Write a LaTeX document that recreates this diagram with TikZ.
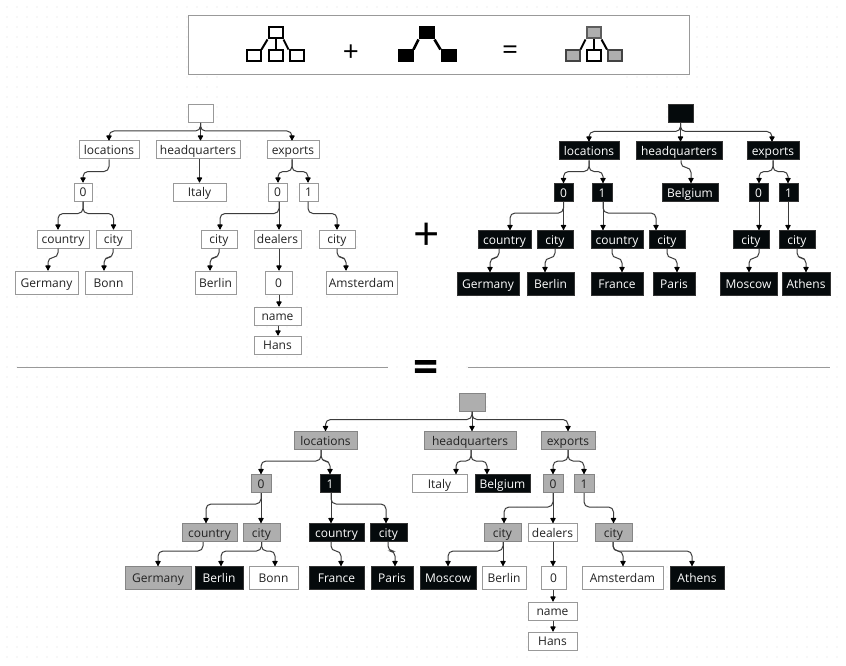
\documentclass[tikz,border=0pt]{standalone}
\usepackage{fontspec}
\setmainfont{Open Sans}
\usetikzlibrary{arrows.meta}
\definecolor{boxgray}{HTML}{999999}
\definecolor{midgray}{HTML}{AEAEAE}
\definecolor{midedge}{HTML}{858585}
\definecolor{nearblack}{HTML}{050A0C}
\definecolor{blackedge}{HTML}{333333}
\definecolor{linkgray}{HTML}{3C3C3C}
\definecolor{dotgray}{HTML}{E0E0E0}
\definecolor{textgray}{HTML}{222222}
\tikzset{
	treenode/.style={rectangle, inner sep=0pt, line width=1pt, minimum height=18pt, text height=10.5pt, text depth=1pt, font=\fontsize{12}{14}\selectfont, align=center},
	whitenode/.style={treenode, draw=boxgray, fill=white, text=textgray},
	blacknode/.style={treenode, draw=blackedge, fill=nearblack, text=white},
	graynode/.style={treenode, draw=midedge, fill=midgray, text=textgray},
	leaf/.style={minimum height=23pt},
	link/.style={draw=linkgray, line width=1pt, rounded corners=5pt, -{Latex[length=6pt,width=6.5pt,round,black]}},
	iconbox/.style={rectangle, draw=black, line width=2pt, minimum width=14pt, minimum height=11pt, inner sep=0pt},
	iconlink/.style={draw=black, line width=2pt},
	sign/.style={inner sep=0pt, text=black}
}
\begin{document}
\begin{tikzpicture}[x=1pt,y=-1pt]
	\useasboundingbox (0,0) rectangle (846,666);
	\fill[white] (0,0) rectangle (846,666);

	% Dotted canvas
	\foreach \dotx in {7,17,...,837}
		\foreach \doty in {7,17,...,657}
			\fill[dotgray] (\dotx,\doty) circle (0.6pt);
	\fill[white] (219,70) rectangle (619,92);

	% Legend box
	\node[rectangle, draw=boxgray, fill=white, line width=1pt, minimum width=501pt, minimum height=59pt, inner sep=0pt] (legend) at (438.5,45.5) {};

	% Legend white tree
	\node[iconbox, fill=white] (wtop) at (275.5,33) {};
	\node[iconbox, fill=white] (wleft) at (253.5,56) {};
	\node[iconbox, fill=white] (wmid) at (275.5,56) {};
	\node[iconbox, fill=white] (wright) at (296.5,56) {};
	\draw[iconlink] (wtop.south west) -- (wleft.north east);
	\draw[iconlink] (wtop.south) -- (wmid.north);
	\draw[iconlink] (wtop.south east) -- (wright.north west);

	% Legend black tree
	\node[iconbox, fill=black] (btop) at (426.5,33) {};
	\node[iconbox, fill=black] (bleft) at (405.5,56) {};
	\node[iconbox, fill=black] (bright) at (448.5,56) {};
	\draw[iconlink, line width=2.6pt] (btop.south west) -- (bleft.north east);
	\draw[iconlink, line width=2.6pt] (btop.south east) -- (bright.north west);

	% Legend merged tree
	\node[iconbox, fill=midgray, draw=midedge!70!black] (gtop) at (593.5,33) {};
	\node[iconbox, fill=midgray, draw=midedge!50!black] (gleft) at (572.5,56) {};
	\node[iconbox, fill=white] (gmid) at (593.5,56) {};
	\node[iconbox, fill=midgray, draw=midedge!50!black] (gright) at (615,56) {};
	\draw[iconlink] (gtop.south west) -- (gleft.north east);
	\draw[iconlink] (gtop.south) -- (gmid.north);
	\draw[iconlink] (gtop.south east) -- (gright.north west);

	% Signs
	\node[sign, font=\fontsize{28}{30}\selectfont] (lplus) at (351,53) {+};
	\node[sign, font=\fontsize{28}{30}\selectfont] (lequal) at (510,53) {=};
	\node[sign, font=\fontsize{46}{48}\selectfont] (bigplus) at (426.5,237) {+};
	\node[sign, font=\fontsize{44}{46}\bfseries\selectfont] (bigequal) at (426.5,371) {=};

	% Separator
	\coordinate (sepa) at (17,367);
	\coordinate (sepb) at (388,367);
	\coordinate (sepc) at (468,367);
	\coordinate (sepd) at (830,367);
	\draw[boxgray, line width=1pt] (sepa) -- (sepb);
	\draw[boxgray, line width=1pt] (sepc) -- (sepd);

	% Left tree nodes
	\node[whitenode, minimum width=25pt] (lroot) at (200.5,113.5) {};
	\node[whitenode, minimum width=60pt] (lloc) at (109,150) {locations};
	\node[whitenode, minimum width=84pt] (lhq) at (198,150) {headquarters};
	\node[whitenode, minimum width=52pt] (lexp) at (293,150) {exports};
	\node[whitenode, minimum width=18pt] (lloczero) at (83,192) {0};
	\node[whitenode, minimum width=53pt] (lital) at (199.5,192) {Italy};
	\node[whitenode, minimum width=19pt] (lexpzero) at (277.5,192) {0};
	\node[whitenode, minimum width=19pt] (lexpone) at (308.5,192) {1};
	\node[whitenode, minimum width=52pt] (lcoun) at (63,239) {country};
	\node[whitenode, minimum width=35pt] (lcitya) at (113.5,239) {city};
	\node[whitenode, minimum width=36pt] (lcityb) at (219,239) {city};
	\node[whitenode, minimum width=47pt] (ldeal) at (277.5,239) {dealers};
	\node[whitenode, minimum width=36pt] (lcityc) at (337,239) {city};
	\node[whitenode, leaf, minimum width=63pt] (lgerm) at (46.5,282.5) {Germany};
	\node[whitenode, leaf, minimum width=47pt] (lbonn) at (108.5,282.5) {Bonn};
	\node[whitenode, leaf, minimum width=41pt] (lberl) at (215.5,282.5) {Berlin};
	\node[whitenode, leaf, minimum width=27pt] (ldealzero) at (278.5,282.5) {0};
	\node[whitenode, leaf, minimum width=71pt] (lamst) at (361.5,282.5) {Amsterdam};
	\node[whitenode, minimum width=47pt] (lname) at (277.5,316) {name};
	\node[whitenode, minimum width=47pt] (lhans) at (277.5,345) {Hans};

	% Left tree arrows
	\draw[link] (lroot.south) -- ++(0,8) -| (lloc.north);
	\draw[link] (lroot.south) -- (200.5,0 |- lhq.north);
	\draw[link] (lroot.south) -- ++(0,8) -| (292,0 |- lexp.north);
	\draw[link] (lloc.south) -- ++(0,12) -| (lloczero.north);
	\draw[link] (lhq.south -| lital.north) -- (lital.north);
	\draw[link] (292,0 |- lexp.south) -- ++(0,12) -| (278,0 |- lexpzero.north);
	\draw[link] (292,0 |- lexp.south) -- ++(0,12) -| (308,0 |- lexpone.north);
	\draw[link] (lloczero.south) -- ++(0,12) -| (58,0 |- lcoun.north);
	\draw[link] (lloczero.south) -- ++(0,12) -| (lcitya.north);
	\draw[link] (279,0 |- lexpzero.south) -- ++(0,12) -| (220,0 |- lcityb.north);
	\draw[link] (279,0 |- lexpzero.south) -- (279,0 |- ldeal.north);
	\draw[link] (308,0 |- lexpone.south) -- ++(0,12) -| (337,0 |- lcityc.north);
	\draw[link] (58,0 |- lcoun.south) -- ++(0,9) -| (48,0 |- lgerm.north);
	\draw[link] (113,0 |- lcitya.south) -- ++(0,9) -| (104,0 |- lbonn.north);
	\draw[link] (219,0 |- lcityb.south) -- ++(0,9) -| (210,0 |- lberl.north);
	\draw[link] (279,0 |- ldeal.south) -- (279,0 |- ldealzero.north);
	\draw[link] (337,0 |- lcityc.south) -- ++(0,9) -| (346,0 |- lamst.north);
	\draw[link] (279,0 |- ldealzero.south) -- (279,0 |- lname.north);
	\draw[link] (278,0 |- lname.south) -- (278,0 |- lhans.north);

	% Right tree nodes
	\node[blacknode, minimum width=25pt] (rroot) at (680.5,114) {};
	\node[blacknode, minimum width=60pt] (rloc) at (589,151) {locations};
	\node[blacknode, minimum width=86pt] (rhq) at (679,151) {headquarters};
	\node[blacknode, minimum width=52pt] (rexp) at (773,151) {exports};
	\node[blacknode, minimum width=19pt] (rloczero) at (563.5,192.5) {0};
	\node[blacknode, minimum width=20pt] (rlocone) at (602,192.5) {1};
	\node[blacknode, minimum width=56pt] (rbelg) at (690,192.5) {Belgium};
	\node[blacknode, minimum width=19pt] (rexpzero) at (758.5,192.5) {0};
	\node[blacknode, minimum width=19pt] (rexpone) at (788.5,192.5) {1};
	\node[blacknode, minimum width=53pt] (rcouna) at (504.5,239.5) {country};
	\node[blacknode, minimum width=36pt] (rcitya) at (555,239.5) {city};
	\node[blacknode, minimum width=52pt] (rcounb) at (617,239.5) {country};
	\node[blacknode, minimum width=36pt] (rcityb) at (667,239.5) {city};
	\node[blacknode, minimum width=36pt] (rcityc) at (751,239.5) {city};
	\node[blacknode, minimum width=36pt] (rcityd) at (797,239.5) {city};
	\node[blacknode, leaf, minimum width=62pt] (rgerm) at (488,284) {Germany};
	\node[blacknode, leaf, minimum width=47pt] (rberl) at (550.5,284) {Berlin};
	\node[blacknode, leaf, minimum width=52pt] (rfran) at (617,284) {France};
	\node[blacknode, leaf, minimum width=42pt] (rpari) at (674,284) {Paris};
	\node[blacknode, leaf, minimum width=57pt] (rmosc) at (748.5,284) {Moscow};
	\node[blacknode, leaf, minimum width=48pt] (rathe) at (806,284) {Athens};

	% Right tree arrows
	\draw[link] (rroot.south) -- ++(0,8) -| (rloc.north);
	\draw[link] (rroot.south) -- (680.5,0 |- rhq.north);
	\draw[link] (rroot.south) -- ++(0,8) -| (772,0 |- rexp.north);
	\draw[link] (rloc.south) -- ++(0,11) -| (rloczero.north);
	\draw[link] (rloc.south) -- ++(0,11) -| (603,0 |- rlocone.north);
	\draw[link] (681,0 |- rhq.south) -- ++(0,7) -| (691,0 |- rbelg.north);
	\draw[link] (773,0 |- rexp.south) -- ++(0,11) -| (759,0 |- rexpzero.north);
	\draw[link] (773,0 |- rexp.south) -- ++(0,11) -| (788,0 |- rexpone.north);
	\draw[link] (rloczero.south) -- ++(0,11) -| (510,0 |- rcouna.north);
	\draw[link] (rloczero.south) -- (563.5,0 |- rcitya.north);
	\draw[link] (603,0 |- rlocone.south) -- (603,0 |- rcounb.north);
	\draw[link] (603,0 |- rlocone.south) -- ++(0,11) -| (656,0 |- rcityb.north);
	\draw[link] (759,0 |- rexpzero.south) -- (759,0 |- rcityc.north);
	\draw[link] (788,0 |- rexpone.south) -- (788,0 |- rcityd.north);
	\draw[link] (499,0 |- rcouna.south) -- ++(0,9) -| (490,0 |- rgerm.north);
	\draw[link] (555,0 |- rcitya.south) -- ++(0,9) -| (545,0 |- rberl.north);
	\draw[link] (612,0 |- rcounb.south) -- ++(0,9) -| (622,0 |- rfran.north);
	\draw[link] (667,0 |- rcityb.south) -- ++(0,9) -| (677,0 |- rpari.north);
	\draw[link] (759,0 |- rcityc.south) -- ++(0,9) -| (749,0 |- rmosc.north);
	\draw[link] (797,0 |- rcityd.south) -- ++(0,9) -| (806,0 |- rathe.north);

	% Merged tree nodes
	\node[graynode, minimum width=26pt] (mroot) at (472,402) {};
	\node[graynode, minimum width=63pt] (mloc) at (325.5,440.5) {locations};
	\node[graynode, minimum width=92pt] (mhq) at (470,440.5) {headquarters};
	\node[graynode, minimum width=54pt] (mexp) at (568,440.5) {exports};
	\node[graynode, minimum width=20pt] (mloczero) at (261,483.5) {0};
	\node[blacknode, minimum width=20pt] (mlocone) at (330,483.5) {1};
	\node[whitenode, minimum width=55pt] (mital) at (439.5,483.5) {Italy};
	\node[blacknode, minimum width=55pt] (mbelg) at (502.5,483.5) {Belgium};
	\node[graynode, minimum width=20pt] (mexpzero) at (553,483.5) {0};
	\node[graynode, minimum width=20pt] (mexpone) at (584,483.5) {1};
	\node[graynode, minimum width=55pt] (mcouna) at (209.5,532.5) {country};
	\node[graynode, minimum width=37pt] (mcitya) at (261.5,532.5) {city};
	\node[blacknode, minimum width=55pt] (mcounb) at (336.5,532.5) {country};
	\node[blacknode, minimum width=37pt] (mcityb) at (388.5,532.5) {city};
	\node[graynode, minimum width=37pt] (mcityc) at (502.5,532.5) {city};
	\node[whitenode, minimum width=49pt] (mdeal) at (552.5,532.5) {dealers};
	\node[graynode, minimum width=37pt] (mcityd) at (613.5,532.5) {city};
	\node[graynode, leaf, minimum width=66pt] (mgerm) at (158,578) {Germany};
	\node[blacknode, leaf, minimum width=48pt] (mberla) at (219,578) {Berlin};
	\node[whitenode, leaf, minimum width=49pt] (mbonn) at (273.5,578) {Bonn};
	\node[blacknode, leaf, minimum width=55pt] (mfran) at (336.5,578) {France};
	\node[blacknode, leaf, minimum width=42pt] (mpari) at (392,578) {Paris};
	\node[blacknode, leaf, minimum width=56pt] (mmosc) at (448,578) {Moscow};
	\node[whitenode, leaf, minimum width=44pt] (mberlb) at (504,578) {Berlin};
	\node[whitenode, leaf, minimum width=25pt] (mdealzero) at (553.5,578) {0};
	\node[whitenode, leaf, minimum width=81pt] (mamst) at (622.5,578) {Amsterdam};
	\node[blacknode, leaf, minimum width=54pt] (mathe) at (697,578) {Athens};
	\node[whitenode, minimum width=49pt] (mname) at (552.5,611) {name};
	\node[whitenode, minimum width=49pt] (mhans) at (552.5,641) {Hans};

	% Merged tree arrows
	\draw[link] (mroot.south) -- ++(0,8) -| (mloc.north);
	\draw[link] (mroot.south) -- (mroot.south |- mhq.north);
	\draw[link] (mroot.south) -- ++(0,8) -| (mexp.north);
	\draw[link] (321,0 |- mloc.south) -- ++(0,11) -| (mloczero.north);
	\draw[link] (321,0 |- mloc.south) -- ++(0,11) -| (mlocone.north);
	\draw[link] (471,0 |- mhq.south) -- ++(0,11) -| (456,0 |- mital.north);
	\draw[link] (471,0 |- mhq.south) -- ++(0,11) -| (487,0 |- mbelg.north);
	\draw[link] (mexp.south) -- ++(0,11) -| (mexpzero.north);
	\draw[link] (mexp.south) -- ++(0,11) -| (mexpone.north);
	\draw[link] (mloczero.south) -- ++(0,11) -| (206,0 |- mcouna.north);
	\draw[link] (mloczero.south) -- (mloczero.south |- mcitya.north);
	\draw[link] (331,0 |- mlocone.south) -- (331,0 |- mcounb.north);
	\draw[link] (331,0 |- mlocone.south) -- ++(0,11) -| (386,0 |- mcityb.north);
	\draw[link] (mexpzero.south) -- ++(0,14) -| (504,0 |- mcityc.north);
	\draw[link] (mexpzero.south) -- (mexpzero.south |- mdeal.north);
	\draw[link] (mexpone.south) -- ++(0,14) -| (mcityd.north);
	\draw[link] (203,0 |- mcouna.south) -- ++(0,9) -| (158,0 |- mgerm.north);
	\draw[link] (mcitya.south) -- ++(0,9) -| (221,0 |- mberla.north);
	\draw[link] (mcitya.south) -- ++(0,9) -| (275,0 |- mbonn.north);
	\draw[link] (331,0 |- mcounb.south) -- ++(0,9) -| (341,0 |- mfran.north);
	\draw[link] (388,0 |- mcityb.south) -- ++(0,9) -| (395,0 |- mpari.north);
	\draw[link] (503,0 |- mcityc.south) -- ++(0,9) -| (448,0 |- mmosc.north);
	\draw[link] (503,0 |- mcityc.south) -- (503,0 |- mberlb.north);
	\draw[link] (553,0 |- mdeal.south) -- (553,0 |- mdealzero.north);
	\draw[link] (613,0 |- mcityd.south) -- ++(0,9) -| (623,0 |- mamst.north);
	\draw[link] (613,0 |- mcityd.south) -- ++(0,9) -| (692,0 |- mathe.north);
	\draw[link] (553,0 |- mdealzero.south) -- (553,0 |- mname.north);
	\draw[link] (553,0 |- mname.south) -- (553,0 |- mhans.north);
\end{tikzpicture}
\end{document}
